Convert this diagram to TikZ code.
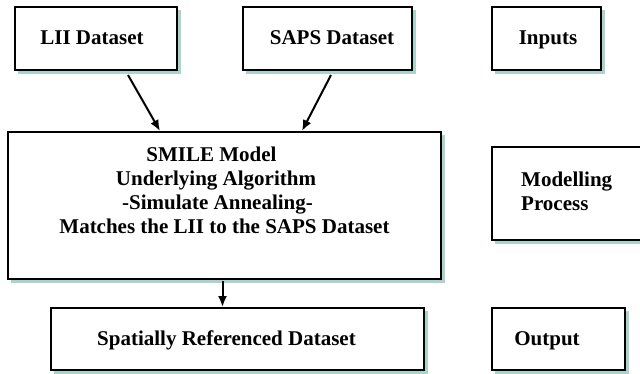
\documentclass[tikz,border=0pt]{standalone}
\usepackage{fontspec}
\setmainfont{Liberation Serif}
\usetikzlibrary{arrows.meta}
\definecolor{shadowteal}{HTML}{A8D4CC}
\tikzset{
  tealshadow/.style={shadowteal, line width=3pt},
  frame/.style={line width=2.4pt},
  txt/.style={font=\bfseries\fontsize{21}{22.2}\selectfont, inner sep=0pt},
  link/.style={line width=2pt, -{Latex[length=11pt,width=9pt]}}
}
% boxat{name}{x0}{y0}{x1}{y1}: framed box with a teal shadow to the lower right
\newcommand{\boxat}[5]{%
  \draw[tealshadow] (#2+3,#5+2.7) -- (#4+2.7,#5+2.7) -- (#4+2.7,#3+3);
  \draw[frame] (#2,#3) rectangle (#4,#5);
  \coordinate (#1-nw) at (#2,#3);
  \coordinate (#1-se) at (#4,#5);
}
\begin{document}
\begin{tikzpicture}[x=1pt,y=-1pt]
\useasboundingbox (0,0) rectangle (640,374);
\begin{scope}
\clip (0,0) rectangle (640,374);
\boxat{lii}{15}{7}{177}{70}
\boxat{saps}{243}{7}{412}{70}
\boxat{inp}{492}{7}{601}{70}
\boxat{smile}{8}{132}{441}{279}
\boxat{mod}{492}{147}{660}{240}
\boxat{spat}{51}{308}{424}{370}
\boxat{outp}{492}{308}{625}{370}
\end{scope}
% labels
\node[txt, anchor=base] (liit) at (92,45) {LII Dataset};
\node[txt, anchor=base] (sapst) at (332,45) {SAPS Dataset};
\node[txt, anchor=base] (inpt) at (548,45) {Inputs};
\node[txt, anchor=base] (smile1) at (211.5,162) {SMILE Model};
\node[txt, anchor=base] (smile2) at (216,186) {Underlying Algorithm};
\node[txt, anchor=base] (smile3) at (217.5,210) {-Simulate Annealing-};
\node[txt, anchor=base] (smile4) at (224.5,234) {Matches the LII to the SAPS Dataset};
\node[txt, anchor=base west] (mod1) at (521,187) {Modelling};
\node[txt, anchor=base west] (mod2) at (521,211) {Process};
\node[txt, anchor=base] (spatt) at (226.5,345) {Spatially Referenced Dataset};
\node[txt, anchor=base] (outpt) at (547,345) {Output};
% connectors
\coordinate (liiout) at (128,75);
\coordinate (smilein1) at (160,131);
\coordinate (sapsout) at (331,75);
\coordinate (smilein2) at (302,131);
\coordinate (smileout) at (222.5,281);
\coordinate (spatin) at (222.5,307);
\draw[link] (liiout) -- (smilein1);
\draw[link] (sapsout) -- (smilein2);
\draw[link] (smileout) -- (spatin);
\end{tikzpicture}
\end{document}
